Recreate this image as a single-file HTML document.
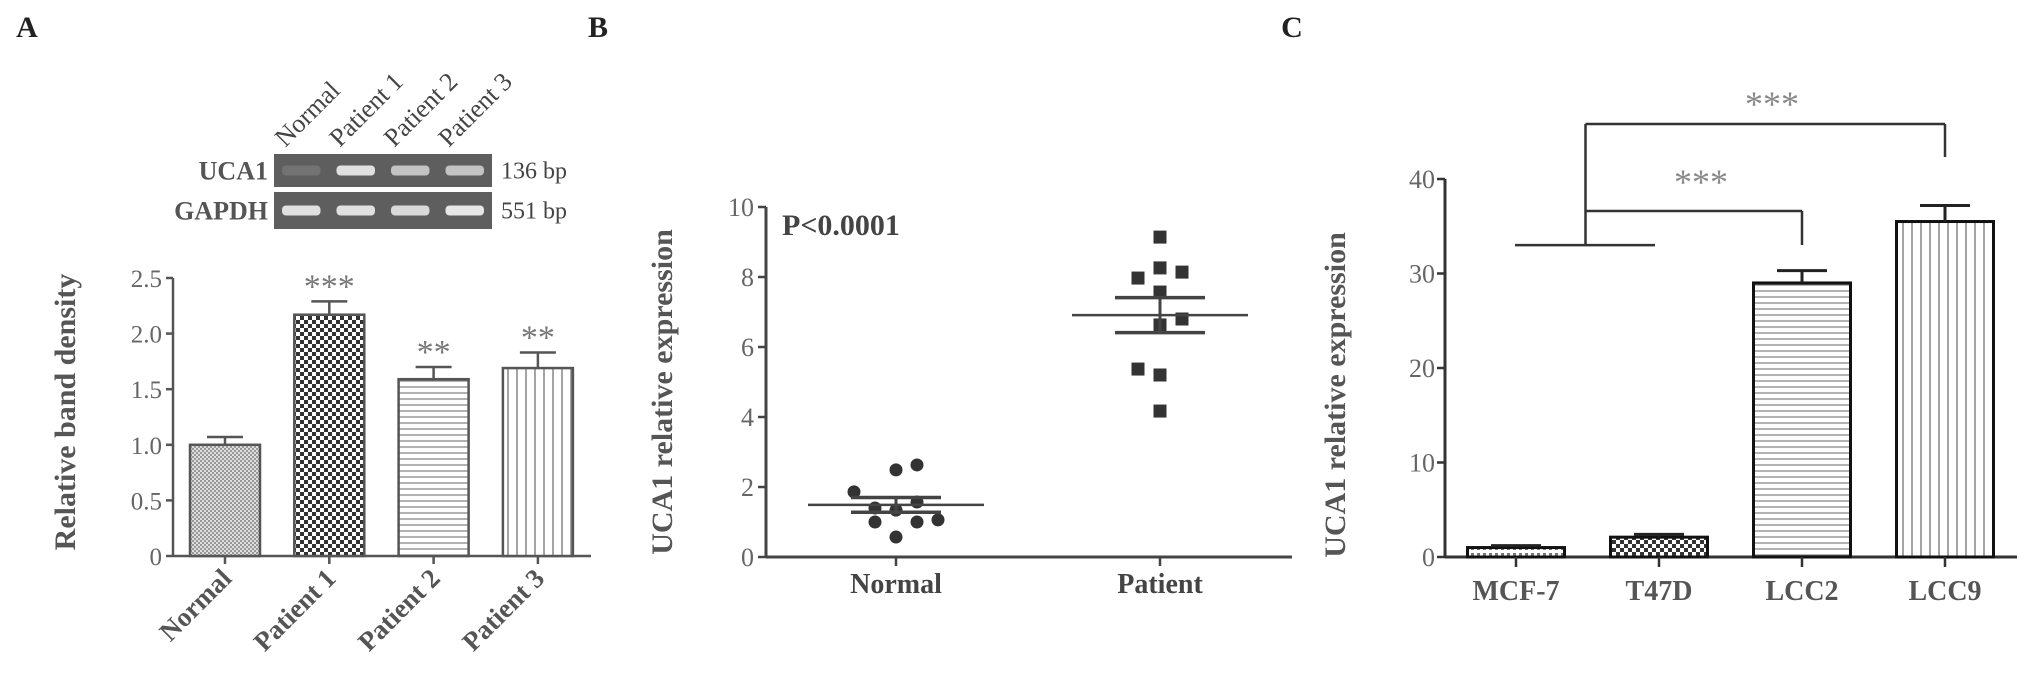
<!DOCTYPE html>
<html><head><meta charset="utf-8"><style>
html,body{margin:0;padding:0;background:#fff;}
svg{display:block;font-family:"Liberation Serif",serif;}
</style></head><body>
<svg id="fig" width="2031" height="685" viewBox="0 0 2031 685" xmlns="http://www.w3.org/2000/svg">
<defs>
<pattern id="pNormal" width="4" height="4" patternUnits="userSpaceOnUse"><rect width="4" height="4" fill="#ddd"/><rect width="2" height="2" fill="#999"/><rect x="2" y="2" width="2" height="2" fill="#999"/></pattern>
<pattern id="pCheck" width="8" height="8" patternUnits="userSpaceOnUse"><rect width="8" height="8" fill="#fff"/><rect width="4" height="4" fill="#333"/><rect x="4" y="4" width="4" height="4" fill="#333"/></pattern>
<pattern id="pH" width="6" height="6" patternUnits="userSpaceOnUse"><rect width="6" height="6" fill="#fff"/><line x1="0" y1="3" x2="6" y2="3" stroke="#666" stroke-width="1"/></pattern>
<pattern id="pV" width="9" height="6" patternUnits="userSpaceOnUse"><rect width="9" height="6" fill="#fff"/><line x1="4" y1="0" x2="4" y2="6" stroke="#666" stroke-width="1.2"/></pattern>
<pattern id="pDot" width="6" height="6" patternUnits="userSpaceOnUse"><rect width="6" height="6" fill="#fff"/><rect x="1" y="1" width="3" height="3" fill="#777"/></pattern>
</defs>
<g id="root"></g>
</svg>
<script>
// Panel A data
const aCats = ["Normal","Patient 1","Patient 2","Patient 3"];
const aVals = [1.0, 2.17, 1.59, 1.69];
const aErr = [0.07, 0.12, 0.11, 0.14];
const aStars = ["", "***", "**", "**"];
const aTicks = ["0","0.5","1.0","1.5","2.0","2.5"];
const aTickVals = [0,0.5,1.0,1.5,2.0,2.5];
const gelLanes = ["Normal","Patient 1","Patient 2","Patient 3"];
const gelUca1 = [0.15, 0.9, 0.7, 0.7];
const gelGapdh = [0.9, 0.9, 0.85, 0.95];
// Panel B data
const bCats = ["Normal","Patient"];
const bNormal = [2.49,2.63,1.86,1.4,1.34,1.57,1.0,1.0,1.06,0.57];
const bNormalJitter = [0,1,-2,-1,0,1,-1,1,2,0];
const bPatient = [9.14,8.26,7.97,8.14,7.57,6.8,6.63,5.37,5.2,4.17];
const bPatientJitter = [0,0,-1,1,0,1,0,-1,0,0];
const bMean = [1.49, 6.91];
const bSem = [0.21, 0.5];
const bTicks = [0,2,4,6,8,10];
// Panel C data
const cCats = ["MCF-7","T47D","LCC2","LCC9"];
const cVals = [1.0, 2.1, 29.0, 35.5];
const cErr = [0.2, 0.3, 1.3, 1.7];
const cTicks = [0,10,20,30,40];
const cBracketLow = 33;

const NS="http://www.w3.org/2000/svg";
const root=document.getElementById('root');
function el(tag,attrs,parent,text){const e=document.createElementNS(NS,tag);for(const k in attrs)e.setAttribute(k,attrs[k]);if(text!==undefined)e.textContent=text;(parent||root).appendChild(e);return e;}
function line(x1,y1,x2,y2,s,w,p){return el('line',{x1,y1,x2,y2,stroke:s||'#555','stroke-width':w||2.5},p);}

['A','B','C'].forEach((L,i)=>{
  const t=el('text',{x:[27,598,1292][i],y:37,'font-size':30,'font-weight':'bold','text-anchor':'middle',fill:'#222'},root,L);
  
  
});

// ===== Panel A =====
const gA=el('g',{});


const aX0=173,aY0=556,aYtop=278,aMax=2.5;
const ay=v=>aY0-(v/aMax)*(aY0-aYtop);
const aStep=104.3,aFirst=225,aBW=70;
const ax=i=>aFirst+i*aStep;
line(aX0,aYtop,aX0,aY0,'#555',2.5,gA);
line(aX0,aY0,591,aY0,'#555',2.5,gA);
aTickVals.forEach((v,i)=>{
  line(aX0-7,ay(v),aX0,ay(v),'#555',2.5,gA);
  const t=el('text',{x:aX0-11,y:ay(v)+9,'font-size':25,'text-anchor':'end',fill:'#666'},gA,aTicks[i]);
  
  
});
const aFills=['url(#pNormal)','url(#pCheck)','url(#pH)','url(#pV)'];
aCats.forEach((c,i)=>{
  const r=el('rect',{x:ax(i)-aBW/2,y:ay(aVals[i]),width:aBW,height:aY0-ay(aVals[i]),fill:aFills[i],stroke:'#555','stroke-width':2.5},gA);
  
  
  const top=ay(aVals[i]+aErr[i]);
  line(ax(i),ay(aVals[i]),ax(i),top,'#555',2.5,gA);
  line(ax(i)-18,top,ax(i)+18,top,'#555',2.5,gA);
  line(ax(i),aY0,ax(i),aY0+8,'#555',2.5,gA);
  if(aStars[i]){const s=el('text',{x:ax(i),y:top-4,'font-size':34,'text-anchor':'middle',fill:'#777'},gA,aStars[i]);
    
    }
  const lb=el('text',{x:ax(i)+8,y:aY0+24,'font-size':27,'font-weight':'bold','text-anchor':'end',fill:'#555',transform:`rotate(-45 ${ax(i)+8} ${aY0+24})`},gA,c);
  
  
});
const aT=el('text',{x:0,y:0,'font-size':30,'font-weight':'bold','text-anchor':'middle',fill:'#555',transform:'translate(75 412) rotate(-90)'},gA,'Relative band density');


const gx0=274,gx1=492,laneW=(gx1-gx0)/4;
[[154,187,gelUca1,'UCA1','136 bp'],[192,229,gelGapdh,'GAPDH','551 bp']].forEach(([y0,y1,vals,nm,bp])=>{
  const r=el('rect',{x:gx0,y:y0,width:gx1-gx0,height:y1-y0,fill:'#5e5e5e'},gA);
  
  
  vals.forEach((v,i)=>{const b=el('rect',{x:gx0+i*laneW+8,y:(y0+y1)/2-5,width:laneW-16,height:10,rx:4,fill:'#eee','fill-opacity':v},gA);
    
    });
  const t1=el('text',{x:268,y:(y0+y1)/2+9,'font-size':26,'font-weight':'bold','text-anchor':'end',fill:'#555'},gA,nm);
  
  
  const t2=el('text',{x:501,y:(y0+y1)/2+8,'font-size':24,fill:'#444'},gA,bp);
  
  
});
gelLanes.forEach((l,i)=>{
  const cx=gx0+(i+0.5)*laneW-16,cy=148;
  const t=el('text',{x:cx,y:cy,'font-size':26,fill:'#444',transform:`rotate(-45 ${cx} ${cy})`},gA,l);
  
  
});

// ===== Panel B =====
const gB=el('g',{});


const bX0=766,bY0=557,bYtop=207,bMax=10,bEnd=1292;
const by=v=>bY0-(v/bMax)*(bY0-bYtop);
const bCenters=[896,1160];
const bx=i=>bCenters[0]+i*(bCenters[1]-bCenters[0]);
line(bX0,bYtop,bX0,bY0,'#444',3,gB);
line(bX0,bY0,bEnd,bY0,'#444',3,gB);
bTicks.forEach(v=>{line(bX0-8,by(v),bX0,by(v),'#444',2.5,gB);
  const t=el('text',{x:bX0-12,y:by(v)+9,'font-size':26,'text-anchor':'end',fill:'#666'},gB,String(v));
  
  });
bCats.forEach((c,i)=>{line(bx(i),bY0,bx(i),bY0+9,'#444',2.5,gB);
  const t=el('text',{x:bx(i),y:bY0+36,'font-size':28,'font-weight':'bold','text-anchor':'middle',fill:'#444'},gB,c);
  
  });
bNormal.forEach((v,k)=>{const c=el('circle',{cx:bx(0)+bNormalJitter[k]*21,cy:by(v),r:6.5,fill:'#333'},gB);
  
  });
bPatient.forEach((v,k)=>{const s=el('rect',{x:bx(1)+bPatientJitter[k]*22-6.5,y:by(v)-6.5,width:13,height:13,fill:'#333'},gB);
  
  });
[0,1].forEach(i=>{
  line(bx(i)-88,by(bMean[i]),bx(i)+88,by(bMean[i]),'#444',2.5,gB);
  line(bx(i),by(bMean[i]-bSem[i]),bx(i),by(bMean[i]+bSem[i]),'#444',3,gB);
  line(bx(i)-45,by(bMean[i]+bSem[i]),bx(i)+45,by(bMean[i]+bSem[i]),'#444',3.5,gB);
  line(bx(i)-45,by(bMean[i]-bSem[i]),bx(i)+45,by(bMean[i]-bSem[i]),'#444',3.5,gB);
});
const pT=el('text',{x:782,y:235,'font-size':30,'font-weight':'bold',fill:'#444'},gB,'P<0.0001');


const bT=el('text',{x:0,y:0,'font-size':30,'font-weight':'bold','text-anchor':'middle',fill:'#555',transform:'translate(672 392) rotate(-90)'},gB,'UCA1 relative expression');



// ===== Panel C =====
const gC=el('g',{});


const cX0=1445,cY0=557,cYtop=179,cMax=40,cEnd=2017;
const cy=v=>cY0-(v/cMax)*(cY0-cYtop);
const cFirst=1516,cStep=143,cBW=97;
const cx=i=>cFirst+i*cStep;
line(cX0,cYtop,cX0,cY0,'#333',3,gC);
line(cX0,cY0,cEnd,cY0,'#333',3,gC);
cTicks.forEach(v=>{line(cX0-8,cy(v),cX0,cy(v),'#333',2.5,gC);
  const t=el('text',{x:cX0-10,y:cy(v)+9,'font-size':26,'text-anchor':'end',fill:'#666'},gC,String(v));
  
  });
const cFills=['url(#pDot)','url(#pCheck)','url(#pH)','url(#pV)'];
cCats.forEach((c,i)=>{
  const r=el('rect',{x:cx(i)-cBW/2,y:cy(cVals[i]),width:cBW,height:cY0-cy(cVals[i]),fill:cFills[i],stroke:'#111','stroke-width':3},gC);
  
  
  const top=cy(cVals[i]+cErr[i]);
  line(cx(i),cy(cVals[i]),cx(i),top,'#222',3,gC);
  line(cx(i)-25,top,cx(i)+25,top,'#222',3,gC);
  line(cx(i),cY0,cx(i),cY0+10,'#333',2.5,gC);
  const t=el('text',{x:cx(i),y:cY0+43,'font-size':28,'font-weight':'bold','text-anchor':'middle',fill:'#555'},gC,c);
  
  
});
const bl=cy(cBracketLow), bvx=(cx(0)+cx(1))/2-2;
line(cx(0)-1,bl,cx(1)-4,bl,'#333',2.5,gC);
line(bvx,bl,bvx,124,'#333',2.5,gC);
line(bvx,211,cx(2),211,'#333',2.5,gC);
line(cx(2),211,cx(2),245,'#333',2.5,gC);
line(bvx,124,cx(3),124,'#333',2.5,gC);
line(cx(3),124,cx(3),157,'#333',2.5,gC);
const s1=el('text',{x:1701,y:194,'font-size':36,'text-anchor':'middle',fill:'#888'},gC,'***');


const s2=el('text',{x:1772,y:116,'font-size':36,'text-anchor':'middle',fill:'#888'},gC,'***');


const cT=el('text',{x:0,y:0,'font-size':30,'font-weight':'bold','text-anchor':'middle',fill:'#555',transform:'translate(1345 395) rotate(-90)'},gC,'UCA1 relative expression');


</script>
</body></html>
